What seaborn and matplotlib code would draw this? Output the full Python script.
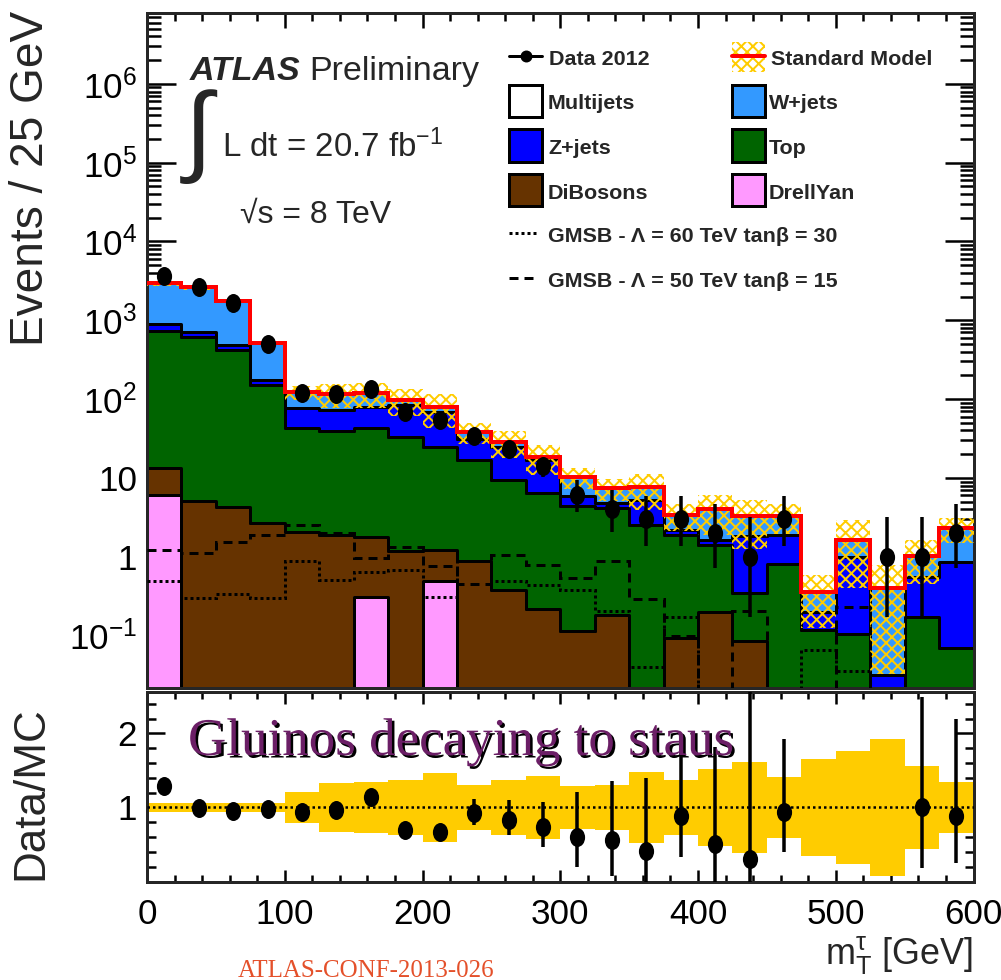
import numpy as np
import pandas as pd
import matplotlib
matplotlib.use("Agg")
import matplotlib.pyplot as plt
import seaborn as sns
from matplotlib.path import Path
from matplotlib.patches import Rectangle
from matplotlib.lines import Line2D
import matplotlib.patheffects as pe
from matplotlib.ticker import FixedLocator, FixedFormatter, MultipleLocator, LogLocator, NullFormatter

DPI = 139
W_PX, H_PX = 1001, 980


def pt(px):
    return px * 72.0 / DPI


def F(x, y):
    return (x / W_PX, 1.0 - y / H_PX)


# ---------------- data ----------------
bin_edges = list(range(0, 601, 25))          # m_T^tau bins, 25 GeV
processes = ["Multijets", "W+jets", "Z+jets", "Top", "DiBosons", "DrellYan"]  # top -> bottom of stack

multijets = [0, 0, 0, 0, 0, 0, 0, 0, 0, 0, 0, 0, 0, 0, 0, 0, 0, 0, 0, 0, 0, 0, 0, 0]
wjets = [2061, 1903, 1290, 345, 45.6, 43.2, 39.0, 13.6, 11.0, 6.9, 3.9, 1.8,
         4.44, 2.61, 2.39, 1.20, 2.35, 1.43, 1.45, 0.159, 0.65, 0.372, 0.473, 1.47]
zjets = [152, 98, 65, 22, 33.8, 33.4, 36.7, 50.4, 44.1, 14.8, 15.5, 10.3,
         1.50, 0.57, 2.67, 0.30, 0.22, 1.48, 1.07, 0.078, 0.894, 0.032, 0.387, 0.779]
top = [725, 616, 415, 149, 40.5, 37.5, 41.5, 32.1, 23.7, 15.9, 9.02, 6.30,
       4.25, 3.99, 2.53, 1.79, 1.21, 0.259, 0.81, 0.118, 0.106, 0.0, 0.17, 0.069]
dibosons = [7.07, 5.08, 4.31, 2.65, 2.07, 1.88, 1.46, 1.17, 0.735, 0.886, 0.379, 0.215,
            0.113, 0.182, 0.0, 0.094, 0.196, 0.084, 0, 0, 0, 0, 0, 0]
drellyan = [6.13, 0, 0, 0, 0, 0, 0.312, 0, 0.485, 0, 0, 0,
            0, 0, 0, 0, 0, 0, 0, 0, 0, 0, 0, 0]
sm_total = [2951, 2622, 1774, 519, 122, 116, 119, 97.3, 80.0, 38.5, 28.8, 18.6,
            10.3, 7.35, 7.59, 3.38, 3.98, 3.25, 3.33, 0.355, 1.65, 0.404, 1.03, 2.32]
sm_rel_unc = [0.065, 0.065, 0.065, 0.065, 0.21, 0.33, 0.35, 0.37, 0.46, 0.31, 0.37, 0.42,
              0.29, 0.31, 0.48, 0.37, 0.52, 0.61, 0.41, 0.65, 0.76, 0.92, 0.56, 0.35]

gmsb_60_30 = [0.485, 0.302, 0.336, 0.302, 0.886, 0.504, 0.638, 0.676, 0.312, 0.88, 0.485, 0.437,
              0.379, 0.205, 0.0398, 0.17, 0.005, 0.005, 0.005, 0.0653, 0.0358, 0.005, 0.005, 0.005]
gmsb_50_15 = [1.22, 1.125, 1.55, 1.88, 2.53, 2.0, 0.963, 1.34, 0.772, 0.446, 1.05, 0.78,
              0.533, 0.886, 0.292, 0.0986, 0.005, 0.205, 0.005, 0.005, 0.228, 0.005, 0.005, 0.005]

nan = float("nan")
data_2012 = [3680, 2620, 1676, 498, 119, 115, 134.5, 69, 54.5, 34, 23.2, 14.2,
             6, 4, 3, 3, 2, 1, 3, nan, nan, 1, 1, 2]
data_low = [3619, 2569, 1635, 476, 108, 104.3, 122.9, 60.7, 47.1, 28.2, 18.4, 10.4,
            3.72, 2.07, 1.36, 1.36, 0.71, 0.173, 1.36, nan, nan, 0.173, 0.173, 0.71]
data_high = [3741, 2671, 1717, 520, 130, 125.7, 146.1, 77.3, 61.9, 39.8, 28.0, 18.0,
             9.4, 7.03, 5.86, 5.86, 4.64, 3.22, 5.86, nan, nan, 3.22, 3.22, 4.64]

ratio = [1.29, 0.99, 0.95, 0.98, 0.94, 0.96, 1.14, 0.70, 0.67, 0.93, 0.83, 0.74,
         0.60, 0.56, 0.41, 0.88, 0.51, 0.31, 0.94, nan, nan, nan, 1.00, 0.88]
ratio_low = [1.27, 0.97, 0.93, 0.94, 0.86, 0.88, 1.05, 0.62, 0.58, 0.76, 0.63, 0.47,
             0.20, 0.07, 0.0, 0.33, 0.0, 0.0, 0.40, nan, nan, nan, 0.18, 0.25]
ratio_high = [1.31, 1.01, 0.97, 1.02, 1.02, 1.04, 1.23, 0.78, 0.76, 1.12, 1.10, 1.08,
              1.21, 1.36, 1.40, 1.87, 1.82, 3.0, 1.92, nan, nan, nan, 2.49, 2.19]

main_yticks = [1e-1, 1, 10, 1e2, 1e3, 1e4, 1e5, 1e6]
main_yticklabels = ["10$^{-1}$", "1", "10", "10$^{2}$", "10$^{3}$", "10$^{4}$", "10$^{5}$", "10$^{6}$"]

colors = {"Multijets": "#FFFFFF", "W+jets": "#3399FF", "Z+jets": "#0000FF",
          "Top": "#006400", "DiBosons": "#663300", "DrellYan": "#FF99FF"}
YELLOW = "#FFCC00"

# ---------------- style ----------------
sns.set_theme(style="ticks")
plt.rcParams["font.family"] = ["Liberation Sans", "DejaVu Sans"]
plt.rcParams["mathtext.default"] = "regular"
plt.rcParams["hatch.linewidth"] = pt(2.0)
plt.rcParams["hatch.color"] = YELLOW
plt.rcParams["axes.linewidth"] = pt(3)
plt.rcParams["xtick.labelsize"] = pt(35)
plt.rcParams["ytick.labelsize"] = pt(35)
plt.rcParams["xtick.color"] = "black"
plt.rcParams["ytick.color"] = "black"

fig = plt.figure(figsize=(W_PX / DPI, H_PX / DPI), dpi=DPI)
fig.patch.set_facecolor("white")

L, R = 147, 973.5
ax = fig.add_axes([L / W_PX, 1 - 687.5 / H_PX, (R - L) / W_PX, (687.5 - 12.7) / H_PX])
ax2 = fig.add_axes([L / W_PX, 1 - 881.5 / H_PX, (R - L) / W_PX, (881.5 - 692.0) / H_PX])

edges = np.array(bin_edges, dtype=float)
centers = edges[:-1] + 12.5

stack = {"Multijets": multijets, "W+jets": wjets, "Z+jets": zjets, "Top": top,
         "DiBosons": dibosons, "DrellYan": drellyan}
df = pd.DataFrame({
    "mT": np.tile(centers, len(processes)),
    "events": np.concatenate([np.asarray(stack[p], float) for p in processes]),
    "process": np.repeat(processes, len(centers)),
})

sns.histplot(data=df, x="mT", weights="events", hue="process", hue_order=processes,
             palette=colors, multiple="stack", bins=bin_edges, element="step", fill=True,
             alpha=1.0, edgecolor="black", linewidth=pt(3), legend=False, ax=ax)
ax.set_yscale("log")
ax.set_xlim(0, 600)
ax.set_ylim(0.0219, 8.0e6)

sm = np.asarray(sm_total, float)
rel = np.asarray(sm_rel_unc, float)
band_lo = np.clip(sm * (1 - rel), 1e-3, None)
band_hi = sm * (1 + rel)
ax.stairs(band_hi, edges, baseline=band_lo, fill=True, facecolor="none",
          edgecolor=YELLOW, hatch="xxxx", linewidth=0, zorder=5)
ax.stairs(sm, edges, baseline=None, color="#FF0000", linewidth=pt(4), zorder=6)
ax.stairs(gmsb_60_30, edges, baseline=None, color="black", linewidth=pt(3),
          linestyle=(0, (1, 1)), zorder=6)
ax.stairs(gmsb_50_15, edges, baseline=None, color="black", linewidth=pt(3),
          linestyle=(0, (3, 2)), zorder=6)

circ = Path.unit_circle()
ellipse = Path(circ.vertices * np.array([0.8, 1.0]), circ.codes)

d = np.asarray(data_2012, float)
yerr = [d - np.asarray(data_low, float), np.asarray(data_high, float) - d]
ax.errorbar(centers, d, yerr=yerr, fmt="none", ecolor="black", elinewidth=pt(3.5), capsize=0, zorder=8)
sns.scatterplot(x=centers, y=d, marker=ellipse, s=pt(19) ** 2, color="black",
                edgecolor="black", linewidth=0, ax=ax, zorder=9, legend=False)

ax.set_xlabel("")
ax.set_ylabel("")
ax.xaxis.set_major_locator(MultipleLocator(100))
ax.xaxis.set_minor_locator(MultipleLocator(20))
ax.yaxis.set_major_locator(FixedLocator(main_yticks))
ax.yaxis.set_major_formatter(FixedFormatter(main_yticklabels))
ax.yaxis.set_minor_locator(LogLocator(base=10, subs=np.arange(2, 10), numticks=30))
ax.yaxis.set_minor_formatter(NullFormatter())
ax.tick_params(axis="x", which="both", direction="in", top=True, bottom=True, labelbottom=False,
               width=pt(2.5))
ax.tick_params(axis="x", which="major", length=pt(15))
ax.tick_params(axis="x", which="minor", length=pt(8))
ax.tick_params(axis="y", which="both", direction="in", left=True, right=True, width=pt(2.5),
               pad=pt(10))
ax.tick_params(axis="y", which="major", length=pt(29))
ax.tick_params(axis="y", which="minor", length=pt(14))

# ---------------- ratio panel ----------------
ax2.stairs(1 + rel, edges, baseline=1 - rel, fill=True, color=YELLOW, linewidth=0, zorder=2)
ax2.axhline(1.0, color="black", linewidth=pt(2.5), linestyle=(0, (1, 1.2)), zorder=3)
r = np.asarray(ratio, float)
rerr = [r - np.asarray(ratio_low, float), np.asarray(ratio_high, float) - r]
ax2.errorbar(centers, r, yerr=rerr, fmt="none", ecolor="black", elinewidth=pt(3.5), capsize=0, zorder=8)
sns.scatterplot(x=centers, y=r, marker=ellipse, s=pt(19) ** 2, color="black",
                edgecolor="black", linewidth=0, ax=ax2, zorder=9, legend=False)
ax2.set_xlim(0, 600)
ax2.set_ylim(0, 2.56)
ax2.set_xlabel("")
ax2.set_ylabel("")
ax2.xaxis.set_major_locator(MultipleLocator(100))
ax2.xaxis.set_minor_locator(MultipleLocator(20))
ax2.yaxis.set_major_locator(FixedLocator([1, 2]))
ax2.yaxis.set_minor_locator(MultipleLocator(0.2))
ax2.tick_params(axis="x", which="both", direction="in", top=True, bottom=True, width=pt(2.5),
                pad=pt(17))
ax2.tick_params(axis="x", which="major", length=pt(12))
ax2.tick_params(axis="x", which="minor", length=pt(7))
ax2.tick_params(axis="y", which="both", direction="in", left=True, right=True, width=pt(2.5),
                pad=pt(10))
ax2.tick_params(axis="y", which="major", length=pt(18))
ax2.tick_params(axis="y", which="minor", length=pt(9))

# ---------------- texts ----------------
fig.text(*F(31, 11), "Events / 25 GeV", rotation=90, ha="center", va="top", fontsize=pt(46))
fig.text(*F(31, 880), "Data/MC", rotation=90, ha="center", va="bottom", fontsize=pt(44))
fig.text(*F(973, 964), r"m$_{T}^{\tau}$ [GeV]", ha="right", va="baseline", fontsize=pt(36))

fig.text(*F(190, 80), "ATLAS", fontsize=pt(34), fontweight="bold", fontstyle="italic", va="baseline")
fig.text(*F(309, 80), "Preliminary", fontsize=pt(34), va="baseline")
fig.text(*F(200, 136), r"$\int$", fontsize=pt(100), ha="center", va="center", math_fontfamily="stix")
fig.text(*F(222, 157), r"L dt = 20.7 fb$^{-1}$", fontsize=pt(33), va="baseline")
fig.text(*F(240, 223), "\u221As = 8 TeV", fontsize=pt(32), va="baseline")

# legend (drawn by hand to match two-column layout)
LEG_FS = pt(21.5)
bw, bh = 33, 32


def box(x0, yc, color):
    fx, fy = F(x0, yc + bh / 2)
    fig.add_artist(Rectangle((fx, fy), bw / W_PX, bh / H_PX, transform=fig.transFigure,
                             facecolor=color, edgecolor="black", linewidth=pt(3), zorder=10))


def legtext(x, ybase, s):
    fig.text(*F(x, ybase), s, fontsize=LEG_FS, fontweight="bold", va="baseline", zorder=11)


# Data 2012
fig.add_artist(Line2D([F(509, 0)[0], F(542, 0)[0]], [F(0, 56)[1]] * 2, transform=fig.transFigure,
                      color="black", linewidth=pt(3)))
fig.add_artist(Line2D([F(525.5, 0)[0]], [F(0, 56)[1]], transform=fig.transFigure, marker="o",
                      markersize=pt(10), color="black"))
legtext(549, 65, "Data 2012")
# Standard Model
fx, fy = F(732, 72)
fig.add_artist(Rectangle((fx, fy), 33 / W_PX, 30 / H_PX, transform=fig.transFigure,
                         facecolor="none", edgecolor=YELLOW, hatch="xxxx", linewidth=0))
fig.add_artist(Line2D([F(732, 0)[0], F(765, 0)[0]], [F(0, 56)[1]] * 2, transform=fig.transFigure,
                      color="#FF0000", linewidth=pt(4)))
legtext(771, 65, "Standard Model")
box(509, 101, colors["Multijets"]); legtext(548, 109, "Multijets")
box(732, 101, colors["W+jets"]); legtext(769, 109, "W+jets")
box(509, 145.5, colors["Z+jets"]); legtext(548, 154, "Z+jets")
box(732, 145.5, colors["Top"]); legtext(769, 154, "Top")
box(509, 189.5, colors["DiBosons"]); legtext(548, 199, "DiBosons")
box(732, 189.5, colors["DrellYan"]); legtext(769, 199, "DrellYan")
fig.add_artist(Line2D([F(509, 0)[0], F(539, 0)[0]], [F(0, 233)[1]] * 2, transform=fig.transFigure,
                      color="black", linewidth=pt(3), linestyle=(0, (1, 1))))
legtext(548, 242, "GMSB - \u039B = 60 TeV tan\u03B2 = 30")
fig.add_artist(Line2D([F(509, 0)[0], F(539, 0)[0]], [F(0, 278)[1]] * 2, transform=fig.transFigure,
                      color="black", linewidth=pt(3), linestyle=(0, (3, 2))))
legtext(548, 287, "GMSB - \u039B = 50 TeV tan\u03B2 = 15")

# annotation in ratio panel
fig.text(*F(188, 755), "Gluinos decaying to staus", fontsize=pt(53), color="#6B1E66",
         family=["Liberation Serif", "DejaVu Serif"], va="baseline", zorder=12,
         path_effects=[pe.withSimplePatchShadow(offset=(pt(2.5), -pt(2.5)),
                                                shadow_rgbFace="black", alpha=1.0)])
fig.text(*F(238, 977), "ATLAS-CONF-2013-026", fontsize=pt(25), color="#E4502A",
         family=["Liberation Serif", "DejaVu Serif"], va="baseline")

fig.savefig("out.png", dpi=DPI)
